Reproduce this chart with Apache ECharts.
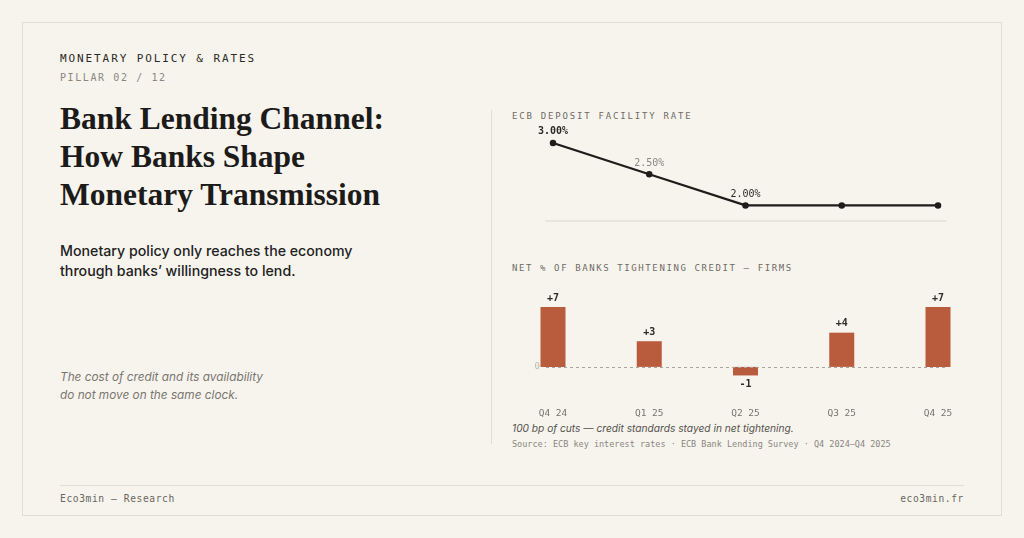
<!DOCTYPE html>
<html><head><meta charset="utf-8">
<script src="https://cdn.jsdelivr.net/npm/echarts@6/dist/echarts.min.js"></script>
<style>
html,body{margin:0;padding:0;background:#f7f4ee;width:1024px;height:538px;overflow:hidden;}
.frame{position:absolute;left:22px;top:22px;width:978px;height:492px;border:1.5px solid #e2ded3;}
.t{position:absolute;white-space:nowrap;}
.mono{font-family:"DejaVu Sans Mono","Liberation Mono",monospace;}
#chart{position:absolute;left:0;top:0;width:1024px;height:538px;}
</style></head>
<body>
<div class="frame"></div>
<div class="t mono" style="left:60px;top:51px;line-height:16px;font-size:11px;letter-spacing:1.9px;color:#2c2a27;">MONETARY POLICY &amp; RATES</div>
<div class="t mono" style="left:60px;top:70px;line-height:16px;font-size:10px;letter-spacing:1.6px;color:#8a8680;">PILLAR 02 / 12</div>
<div class="t" style="left:60px;top:100px;font-family:'Liberation Serif','Times New Roman',serif;font-weight:bold;font-size:31.5px;line-height:38px;color:#1c1b19;">Bank Lending Channel:<br>How Banks Shape<br>Monetary Transmission</div>
<div class="t" style="left:60px;top:241px;font-family:Inter,sans-serif;font-weight:500;font-size:14.2px;line-height:20px;color:#222;">Monetary policy only reaches the economy<br>through banks’ willingness to lend.</div>
<div class="t" style="left:60px;top:368px;font-family:Inter,sans-serif;font-style:italic;font-size:11.8px;line-height:18px;color:#7a7670;">The cost of credit and its availability<br>do not move on the same clock.</div>
<div style="position:absolute;left:491px;top:110px;width:1px;height:334px;background:#e2ded3;"></div>
<div class="t mono" style="left:512px;top:109px;line-height:14px;font-size:9px;letter-spacing:1.8px;color:#6f6b65;">ECB DEPOSIT FACILITY RATE</div>
<div class="t mono" style="left:512px;top:261px;line-height:14px;font-size:9px;letter-spacing:1.6px;color:#6f6b65;">NET % OF BANKS TIGHTENING CREDIT — FIRMS</div>
<div class="t" style="left:512px;top:420px;line-height:16px;font-family:Inter,sans-serif;font-style:italic;font-size:10.2px;color:#55524d;">100 bp of cuts — credit standards stayed in net tightening.</div>
<div class="t mono" style="left:512px;top:437px;line-height:14px;font-size:8.5px;color:#8a8680;">Source: ECB key interest rates · ECB Bank Lending Survey · Q4 2024–Q4 2025</div>
<div style="position:absolute;left:60px;top:485px;width:904px;height:1px;background:#e2ded3;"></div>
<div class="t mono" style="left:60px;top:492px;line-height:14px;font-size:9.6px;letter-spacing:0.6px;color:#6a6660;">Eco3min — Research</div>
<div class="t mono" style="right:60px;top:492px;line-height:14px;font-size:9.6px;letter-spacing:0.6px;color:#6a6660;">eco3min.fr</div>
<div id="chart"></div>
<script>
const quarters = ["Q4 24", "Q1 25", "Q2 25", "Q3 25", "Q4 25"];
const depositRate = [3.00, 2.50, 2.00, 2.00, 2.00];
const rateLabels = ["3.00%", "2.50%", "2.00%", "", ""];
const netTightening = [7, 3, -1, 4, 7];

const mono = '"DejaVu Sans Mono","Liberation Mono",monospace';
const rateLabelStyle = [
  {color:'#2c2a27', fontWeight:'bold'},
  {color:'#8a8680', fontWeight:'normal'},
  {color:'#2c2a27', fontWeight:'normal'},
  {}, {}
];
const chart = echarts.init(document.getElementById('chart'), null, {renderer:'canvas'});
const xMin = -0.0727, xMax = 4.083;
chart.setOption({
  backgroundColor:'transparent',
  animation:false,
  grid:[
    {left:546, width:400, top:143, height:78},
    {left:546, width:400, top:307, height:77}
  ],
  xAxis:[
    {gridIndex:0, type:'value', min:xMin, max:xMax,
     axisLine:{show:true, onZero:false, lineStyle:{color:'#e4e0d6', width:1.5}},
     axisTick:{show:false}, axisLabel:{show:false}, splitLine:{show:false}},
    {gridIndex:1, type:'value', min:xMin, max:xMax,
     axisLine:{show:false, onZero:false}, axisTick:{show:false}, splitLine:{show:false},
     axisLabel:{show:true, customValues:[0,1,2,3,4], formatter:v=>quarters[Math.round(v)],
       margin:25, color:'#77736d', fontFamily:mono, fontSize:9.5}}
  ],
  yAxis:[
    {gridIndex:0, type:'value', min:1.75, max:3.0, show:false},
    {gridIndex:1, type:'value', min:-2, max:7,
     axisLine:{show:false}, axisTick:{show:false}, splitLine:{show:false},
     axisLabel:{show:true, customValues:[0], formatter:'{value}', margin:6,
       color:'#bdb9b1', fontFamily:mono, fontSize:9}}
  ],
  series:[
    {type:'line', xAxisIndex:0, yAxisIndex:0,
     data: depositRate.map((v,i)=>({value:[i,v], label:Object.assign({show:rateLabels[i]!==''}, rateLabelStyle[i])})),
     symbol:'circle', symbolSize:6.5, lineStyle:{color:'#1e1d1b', width:2.2},
     itemStyle:{color:'#1e1d1b'},
     label:{position:'top', distance:3, fontFamily:mono, fontSize:10,
       formatter:p=>rateLabels[p.dataIndex]}},
    {type:'bar', xAxisIndex:1, yAxisIndex:1, barWidth:25,
     data: netTightening.map((v,i)=>({value:[i,v], label:{position: v<0?'bottom':'top'}})),
     itemStyle:{color:'#b95c3d'},
     label:{show:true, distance:4, fontFamily:mono, fontSize:10, fontWeight:'bold', color:'#2c2a27',
       formatter:p=>{const v=p.value[1]; return v>0?'+'+v:String(v);}},
     markLine:{silent:true, symbol:'none', label:{show:false},
       lineStyle:{type:[3,3], color:'#a9a59e', width:1},
       data:[{yAxis:0}]}}
  ]
});
</script>
</body></html>
